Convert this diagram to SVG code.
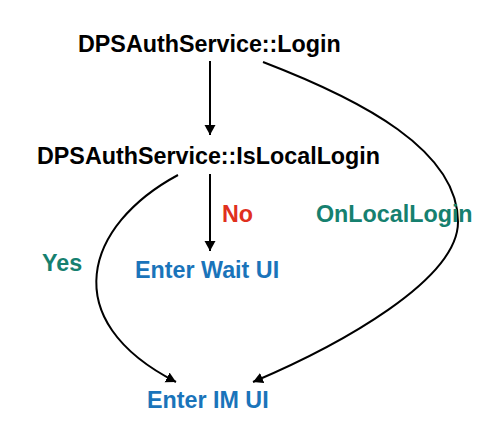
<svg xmlns="http://www.w3.org/2000/svg" width="490" height="422" viewBox="0 0 490 422">
<style>
text{font-family:"Liberation Sans",Arial,sans-serif;font-weight:bold;font-size:23.3px}
.k{fill:#000}.b{fill:#1a74ba}.g{fill:#16806f}.r{fill:#e0301e}
.c{fill:none;stroke:#000;stroke-width:2}
</style>
<defs>
<marker id="ah" markerUnits="userSpaceOnUse" markerWidth="12" markerHeight="12" refX="10" refY="5.5" orient="auto">
<path d="M0,0 L10,5.5 L0,11 Z" fill="#000"/>
</marker>
</defs>
<rect width="490" height="422" fill="#fff"/>
<g id="connectors">
<path class="c" d="M210,61 L210,135" marker-end="url(#ah)"/>
<path class="c" d="M210,174 L210,251" marker-end="url(#ah)"/>
<path class="c" d="M178,175 C85,225 55,320 176,382" marker-end="url(#ah)"/>
<path class="c" d="M263,62 C362,100 458,150 458,222 C458,280 340,345 253,382" marker-end="url(#ah)"/>
</g>
<g id="login"><text class="k" x="78" y="52">DPSAuthService::Login</text></g>
<g id="islocal"><text class="k" x="37" y="164">DPSAuthService::IsLocalLogin</text></g>
<g id="label-no"><text class="r" x="222" y="222">No</text></g>
<g id="label-onlocal"><text class="g" x="316" y="222">OnLocalLogin</text></g>
<g id="label-yes"><text class="g" x="42" y="271">Yes</text></g>
<g id="waitui"><text class="b" x="135" y="278">Enter Wait UI</text></g>
<g id="imui"><text class="b" x="147" y="408">Enter IM UI</text></g>
</svg>
